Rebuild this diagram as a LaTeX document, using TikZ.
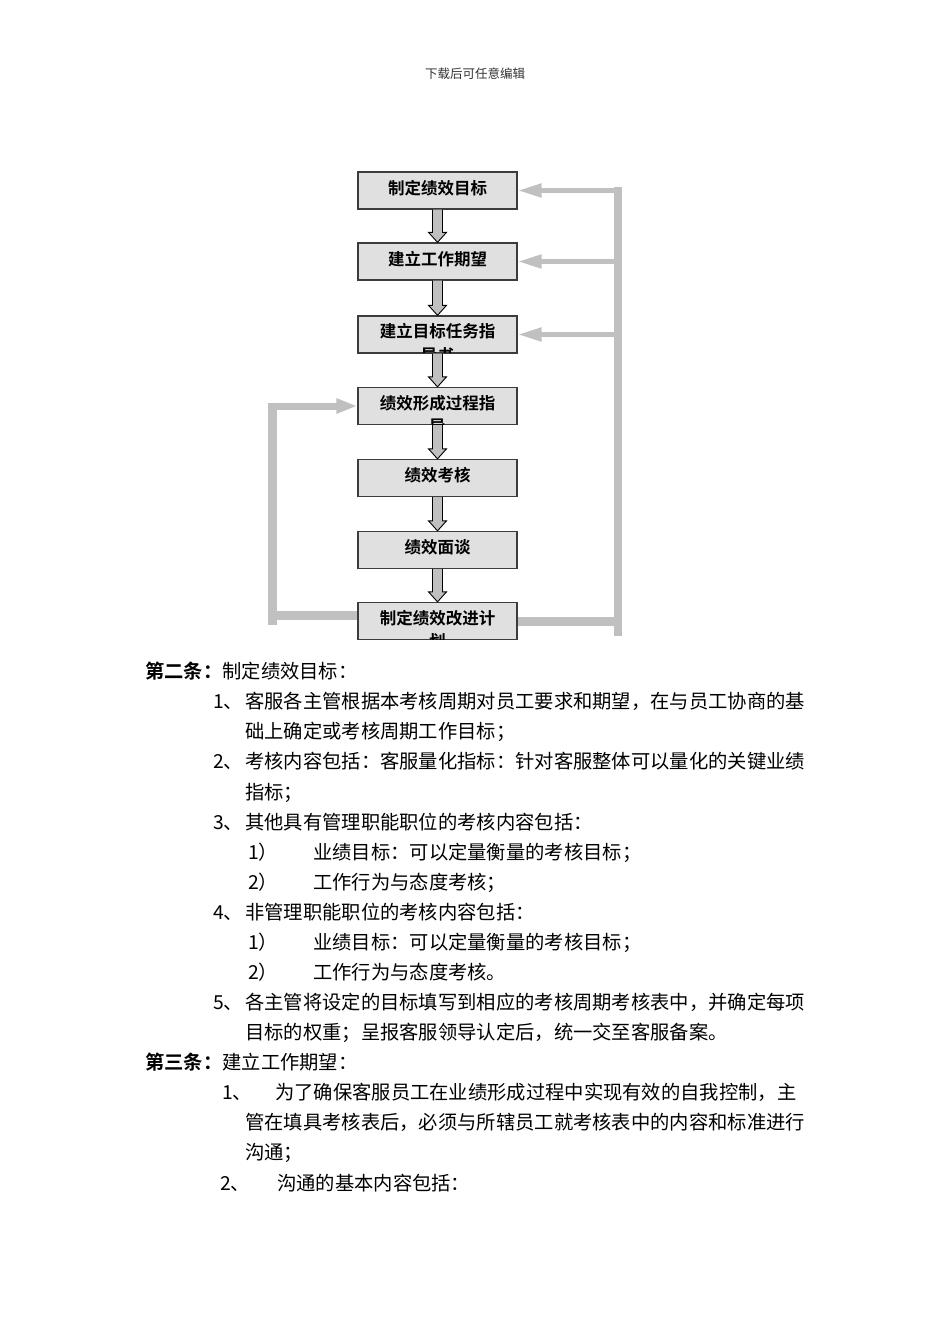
\documentclass[tikz,border=0pt]{standalone}
\usepackage{fontspec}
\setmainfont{Noto Sans CJK SC}[BoldFont={Noto Sans CJK SC Bold}]
\usetikzlibrary{arrows.meta,calc}

\definecolor{boxgray}{RGB}{224,224,224}
\definecolor{linegray}{RGB}{192,192,192}
\definecolor{edgegray}{RGB}{60,60,60}

\tikzstyle{flow box}=[rectangle, draw=edgegray, line width=1.3pt, fill=boxgray, minimum width=159pt, minimum height=37pt, inner sep=0pt]
\tikzstyle{flow text}=[anchor=base, inner sep=0pt, font=\fontsize{16.5pt}{20pt}\selectfont\bfseries]
\tikzstyle{down arrow}=[draw=black, line width=0.9pt, fill=linegray, line join=miter]
\tikzstyle{feedback}=[draw=linegray]
\tikzstyle{feedback arrow}=[draw=linegray, line width=5pt, -{Triangle[length=24pt, width=13pt]}]
\tikzstyle{body}=[anchor=base west, inner sep=0pt, font=\fontsize{19.3pt}{23pt}\selectfont]
\tikzstyle{header}=[anchor=base, inner sep=0pt, text=black!80, font=\fontsize{12.5pt}{15pt}\selectfont]

\begin{document}
\begin{tikzpicture}[x=1pt, y=-1pt]
	\useasboundingbox (0,0) rectangle (950,1344);
	\fill[white] (0,0) rectangle (950,1344);

	\node[header] (head) at (475,78) {下载后可任意编辑};

	% Boxes of the flow
	\node[flow box] (b1) at (437.5,190.5) {};
	\node[flow box] (b2) at (437.5,261.5) {};
	\node[flow box] (b3) at (437.5,334.5) {};
	\node[flow box] (b4) at (437.5,406) {};
	\node[flow box] (b5) at (437.5,478) {};
	\node[flow box] (b6) at (437.5,550) {};
	\node[flow box] (b7) at (437.5,621) {};

	% Feedback on the right
	\coordinate (rtop) at (617.5,187);
	\coordinate (rbot) at (617.5,636);
	\draw[feedback, line width=8pt] (rtop) -- (rbot);
	\foreach \b in {b1, b2, b3}{ \draw[feedback arrow] ($(\b.east -| rtop)+(4,0)$) -- (\b.east); }
	\draw[feedback, line width=9pt] (b7.east) -- ($(b7.east -| rbot)+(4.5,0)$);

	% Feedback on the left
	\coordinate (ltop) at (272.5,402.5);
	\coordinate (lbot) at (272.5,625);
	\draw[feedback, line width=9pt] (ltop) -- (lbot);
	\draw[feedback arrow, line width=7pt, -{Triangle[length=21pt, width=14pt]}] ($(b4.west -| ltop)+(-4.5,0)$) -- (b4.west);
	\draw[feedback, line width=9pt] ($(b7.west)+(0,-6)$) -- ($(b7.west -| lbot)+(-4.5,-6)$);

	% Labels, cut off by their boxes
	\node[flow text] (t1) at ($(b1.center)+(0,4)$) {制定绩效目标};
	\node[flow text] (t2) at ($(b2.center)+(0,3.5)$) {建立工作期望};
	\begin{scope}
		\clip ($(b3.south west)+(1,-1)$) rectangle ($(b3.north east)+(-1,1)$);
		\node[flow text] (t3) at ($(b3.center)+(0,3)$) {建立目标任务指};
		\node[flow text] (t3b) at ($(b3.center)+(0,26.5)$) {导书};
	\end{scope}
	\begin{scope}
		\clip ($(b4.south west)+(1,-1)$) rectangle ($(b4.north east)+(-1,1)$);
		\node[flow text] (t4) at ($(b4.center)+(0,3)$) {绩效形成过程指};
		\node[flow text] (t4b) at ($(b4.center)+(0,26.5)$) {导};
	\end{scope}
	\node[flow text] (t5) at ($(b5.center)+(0,3)$) {绩效考核};
	\node[flow text] (t6) at ($(b6.center)+(0,3)$) {绩效面谈};
	\begin{scope}
		\clip ($(b7.south west)+(1,-1)$) rectangle ($(b7.north east)+(-1,1)$);
		\node[flow text] (t7) at ($(b7.center)+(0,3)$) {制定绩效改进计};
		\node[flow text] (t7b) at ($(b7.center)+(0,26.5)$) {划};
	\end{scope}

	% Arrows down the flow
	\foreach \a/\b in {b1/b2, b2/b3, b3/b4, b4/b5, b5/b6, b6/b7}{
		\draw[down arrow] ($(\a.south)+(-5,0)$) -- ($(\b.north)+(-5,-10)$) -- ($(\b.north)+(-9,-10)$) -- (\b.north)
			-- ($(\b.north)+(9,-10)$) -- ($(\b.north)+(5,-10)$) -- ($(\a.south)+(5,0)$);
	}

	% Article two
	\node[body] (a2) at (145,678) {\textbf{第二条：}制定绩效目标：};
	\node[body] (a2n1) at (213,708) {1、};
	\node[body] (a2t1) at (245,708) {客服各主管根据本考核周期对员工要求和期望，在与员工协商的基};
	\node[body] (a2t1b) at (245,738) {础上确定或考核周期工作目标；};
	\node[body] (a2n2) at (213,768) {2、};
	\node[body] (a2t2) at (245,768) {考核内容包括：客服量化指标：针对客服整体可以量化的关键业绩};
	\node[body] (a2t2b) at (245,799) {指标；};
	\node[body] (a2n3) at (213,829) {3、};
	\node[body] (a2t3) at (245,829) {其他具有管理职能职位的考核内容包括：};
	\node[body] (a2n31) at (248,859) {1）};
	\node[body] (a2t31) at (313,859) {业绩目标：可以定量衡量的考核目标；};
	\node[body] (a2n32) at (248,889) {2）};
	\node[body] (a2t32) at (313,889) {工作行为与态度考核；};
	\node[body] (a2n4) at (213,919) {4、};
	\node[body] (a2t4) at (245,919) {非管理职能职位的考核内容包括：};
	\node[body] (a2n41) at (248,949) {1）};
	\node[body] (a2t41) at (313,949) {业绩目标：可以定量衡量的考核目标；};
	\node[body] (a2n42) at (248,979) {2）};
	\node[body] (a2t42) at (313,979) {工作行为与态度考核。};
	\node[body] (a2n5) at (213,1009) {5、};
	\node[body] (a2t5) at (245,1009) {各主管将设定的目标填写到相应的考核周期考核表中，并确定每项};
	\node[body] (a2t5b) at (245,1039) {目标的权重；呈报客服领导认定后，统一交至客服备案。};

	% Article three
	\node[body] (a3) at (145,1069) {\textbf{第三条：}建立工作期望：};
	\node[body] (a3n1) at (222,1099) {1、};
	\node[body] (a3t1) at (275,1099) {为了确保客服员工在业绩形成过程中实现有效的自我控制，主};
	\node[body] (a3t1b) at (245,1129) {管在填具考核表后，必须与所辖员工就考核表中的内容和标准进行};
	\node[body] (a3t1c) at (245,1159) {沟通；};
	\node[body] (a3n2) at (220,1190) {2、};
	\node[body] (a3t2) at (277,1190) {沟通的基本内容包括：};
\end{tikzpicture}
\end{document}
